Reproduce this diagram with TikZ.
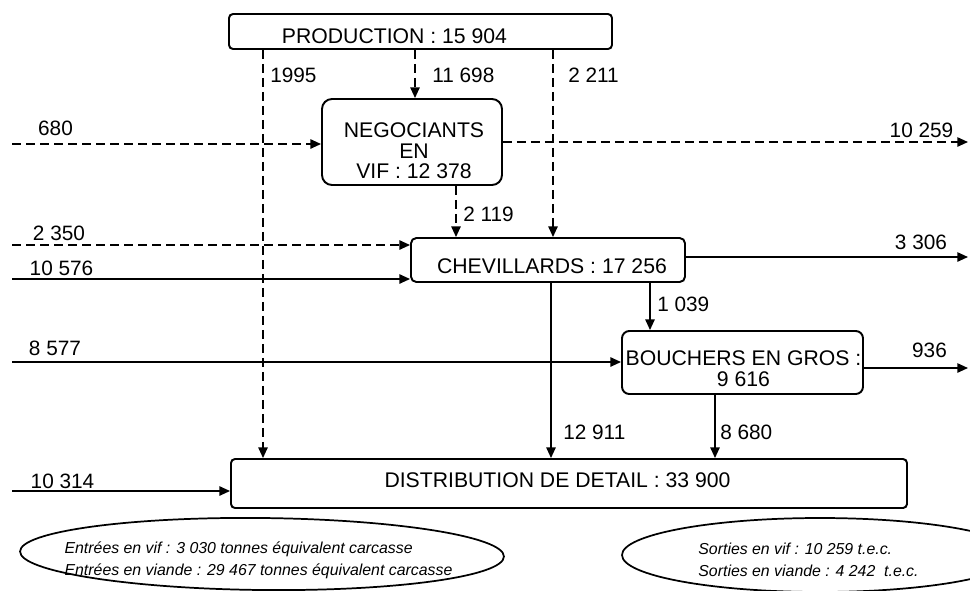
\documentclass[tikz,border=0pt]{standalone}
\usepackage{fontspec}
\setmainfont{Liberation Sans}
\usetikzlibrary{arrows.meta,shapes.geometric}
\begin{document}
\begin{tikzpicture}[x=0.75pt,y=-0.75pt,
  box/.style={draw, line width=1.45pt, inner sep=0pt},
  btext/.style={inner sep=0pt, align=center, font=\fontsize{15.9}{15.4}\selectfont},
  lbl/.style={inner sep=0pt, font=\fontsize{15.6}{18}\selectfont},
  flow/.style={line width=1.25pt, -{Triangle[length=8pt,width=7pt]}},
  dflow/.style={flow, dash pattern=on 6.75pt off 3.75pt},
  etext/.style={inner sep=0pt, align=left, font=\fontsize{11.9}{16.5}\selectfont\itshape},
  oval/.style={draw, ellipse, line width=1.3pt, inner sep=0pt}
]
\clip (0,0) rectangle (970,590);
\fill[white] (0,0) rectangle (970,590);

% boxes
\node[box, rounded corners=3pt, minimum width=287.25pt, minimum height=26.25pt] (prod) at (420.5,31.5) {};
\node[box, rounded corners=7.5pt, minimum width=135pt, minimum height=64.5pt] (neg) at (412,142) {};
\node[box, rounded corners=4pt, minimum width=205.5pt, minimum height=33pt] (chev) at (548,260) {};
\node[box, rounded corners=5.5pt, minimum width=180.75pt, minimum height=47.25pt] (bouch) at (742.5,362.5) {};
\node[box, rounded corners=3pt, minimum width=507pt, minimum height=36.75pt] (dist) at (569,483.5) {};

% box texts
\node[btext] (prodt) at (394.5,36) {PRODUCTION : 15 904};
\node[btext] (negt) at (414,151) {NEGOCIANTS\\EN\\VIF : 12 378};
\node[btext] (chevt) at (552,266) {CHEVILLARDS : 17 256};
\node[btext, font=\fontsize{15.9}{15.9}\selectfont] (boucht) at (743.5,368.5) {BOUCHERS EN GROS :\\9 616};
\node[btext] (distt) at (557.5,480) {DISTRIBUTION DE DETAIL : 33 900};

% helper coordinates
\coordinate (L) at (12,0);
\coordinate (R) at (968,0);
\coordinate (c1) at (263,0);
\coordinate (c2) at (415,0);
\coordinate (c3) at (553,0);
\coordinate (c4) at (456,0);
\coordinate (c5) at (551,0);
\coordinate (c6) at (650,0);
\coordinate (c7) at (715,0);
\coordinate (r680) at (0,144);
\coordinate (r10259) at (0,142);
\coordinate (r2350) at (0,245);
\coordinate (r10576) at (0,279);
\coordinate (r3306) at (0,257);
\coordinate (r8577) at (0,362);
\coordinate (r936) at (0,368);
\coordinate (r10314) at (0,491);

% connectors
\draw[dflow] (prod.south -| c1) -- (dist.north -| c1);
\draw[dflow] (prod.south -| c2) -- (neg.north -| c2);
\draw[dflow] (prod.south -| c3) -- (chev.north -| c3);
\draw[dflow] (L |- r680) -- (neg.west |- r680);
\draw[dflow] (neg.east |- r10259) -- (R |- r10259);
\draw[dflow] (neg.south -| c4) -- (chev.north -| c4);
\draw[dflow] (L |- r2350) -- (chev.west |- r2350);
\draw[flow] (L |- r10576) -- (chev.west |- r10576);
\draw[flow] (chev.east |- r3306) -- (R |- r3306);
\draw[flow] (chev.south -| c5) -- (dist.north -| c5);
\draw[flow] (chev.south -| c6) -- (bouch.north -| c6);
\draw[flow] (L |- r8577) -- (bouch.west |- r8577);
\draw[flow] (bouch.east |- r936) -- (R |- r936);
\draw[flow] (bouch.south -| c7) -- (dist.north -| c7);
\draw[flow] (L |- r10314) -- (dist.west |- r10314);

% labels
\node[lbl, anchor=west] (l1995) at (270,75) {1995};
\node[lbl, anchor=west] (l11698) at (432,75) {11 698};
\node[lbl, anchor=west] (l2211) at (568,75) {2 211};
\node[lbl] (l680) at (55.5,128) {680};
\node[lbl] (l10259) at (921.5,130) {10 259};
\node[lbl, anchor=west] (l2119) at (463,214) {2 119};
\node[lbl] (l2350) at (59,233) {2 350};
\node[lbl] (l10576) at (61.5,268.5) {10 576};
\node[lbl] (l3306) at (921,242) {3 306};
\node[lbl, anchor=west] (l1039) at (657,304) {1 039};
\node[lbl, anchor=west] (l12911) at (563,432) {12 911};
\node[lbl] (l8577) at (55,348) {8 577};
\node[lbl] (l936) at (929.5,350) {936};
\node[lbl, anchor=west] (l8680) at (720,432) {8 680};
\node[lbl] (l10314) at (62.5,481) {10 314};

% ellipses
\node[oval, rotate=-0.6, minimum width=363pt, minimum height=54pt] (ell1) at (262,554) {};
\node[oval, minimum width=297pt, minimum height=55.5pt] (ell2) at (820,555) {};
\node[etext] (ell1t) at (258.5,560) {Entrées en vif : 3 030 tonnes équivalent carcasse\\Entrées en viande : 29 467 tonnes équivalent carcasse};
\node[etext] (ell2t) at (808.5,560) {Sorties en vif : 10 259 t.e.c.\\Sorties en viande : 4 242~ t.e.c.};
\end{tikzpicture}
\end{document}
